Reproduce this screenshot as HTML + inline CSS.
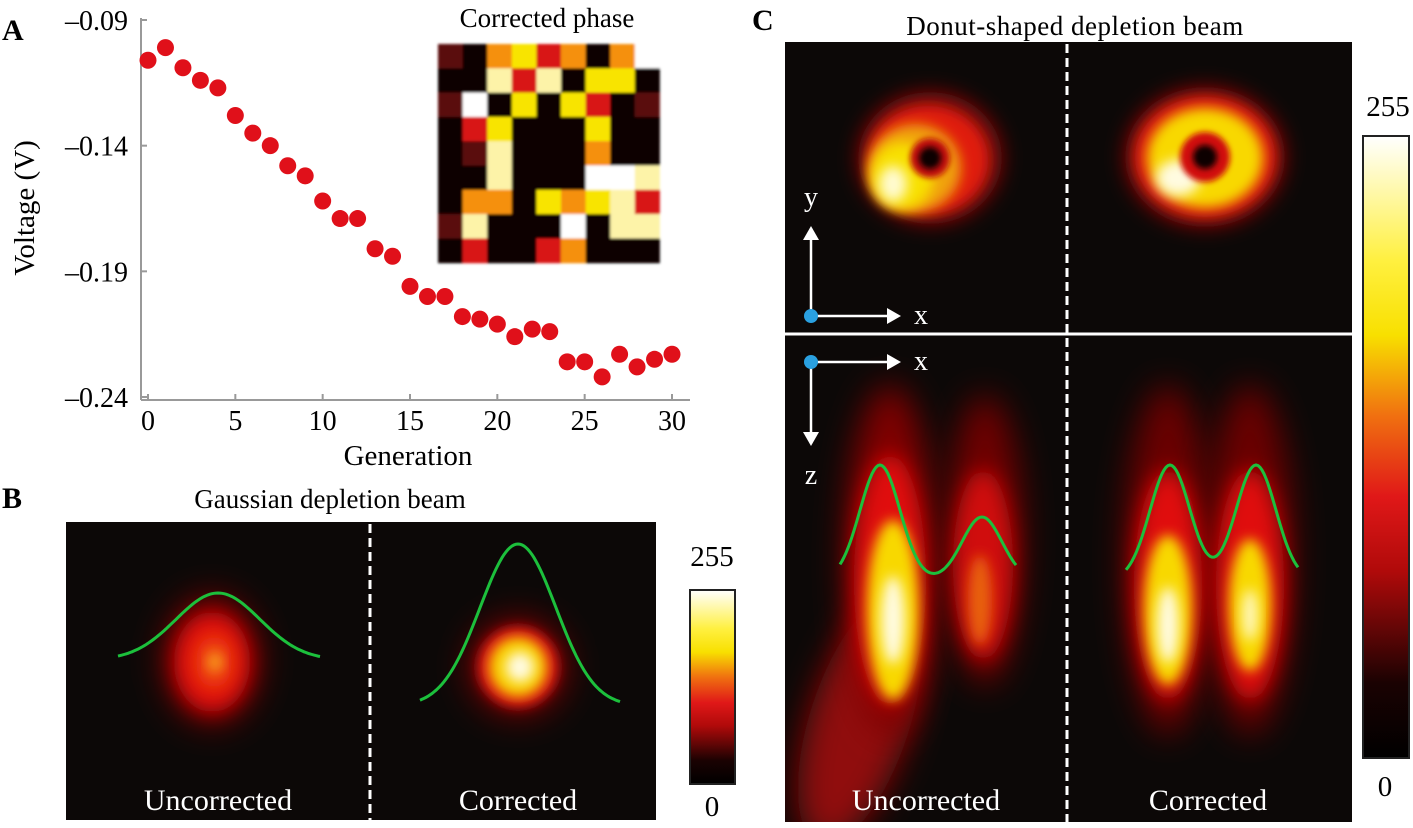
<!DOCTYPE html>
<html><head><meta charset="utf-8"><style>
html,body{margin:0;padding:0;background:#fff;}
svg{display:block;font-family:"Liberation Serif",serif;}
</style></head><body>
<svg id="fig" width="1413" height="828" viewBox="0 0 1413 828" xmlns="http://www.w3.org/2000/svg">
<defs>
<filter id="b3" x="-50%" y="-50%" width="200%" height="200%"><feGaussianBlur stdDeviation="3"/></filter>
<filter id="b6" x="-50%" y="-50%" width="200%" height="200%"><feGaussianBlur stdDeviation="6"/></filter>
<filter id="b10" x="-50%" y="-50%" width="200%" height="200%"><feGaussianBlur stdDeviation="10"/></filter>
<filter id="b16" x="-50%" y="-50%" width="200%" height="200%"><feGaussianBlur stdDeviation="16"/></filter>
<filter id="bi" x="-5%" y="-5%" width="110%" height="110%"><feGaussianBlur stdDeviation="1.2"/></filter>
<linearGradient id="cmap" x1="0" y1="1" x2="0" y2="0">
<stop offset="0" stop-color="#000"/><stop offset="0.12" stop-color="#1a0202"/><stop offset="0.3" stop-color="#b00a0a"/><stop offset="0.42" stop-color="#e01818"/><stop offset="0.55" stop-color="#f07010"/><stop offset="0.68" stop-color="#f8e000"/><stop offset="0.8" stop-color="#fff040"/><stop offset="1" stop-color="#fff"/>
</linearGradient>
<clipPath id="cB1"><rect x="66" y="522" width="302" height="298"/></clipPath>
<clipPath id="cB2"><rect x="372" y="522" width="284" height="298"/></clipPath>
<clipPath id="cC1"><rect x="785" y="42" width="280" height="288"/></clipPath>
<clipPath id="cC2"><rect x="1069" y="42" width="283" height="288"/></clipPath>
<clipPath id="cC3"><rect x="785" y="338" width="280" height="484"/></clipPath>
<clipPath id="cC4"><rect x="1069" y="338" width="283" height="484"/></clipPath>
</defs>

<g>
<text x="2" y="40" font-size="30" font-weight="bold">A</text>
<g id="scatter"></g>
<g id="inset"></g>
<text x="547" y="27" font-size="27" text-anchor="middle">Corrected phase</text>
</g>

<g>
<text x="2" y="508" font-size="30" font-weight="bold">B</text>
<text x="330" y="508" font-size="27" text-anchor="middle">Gaussian depletion beam</text>
<rect x="66" y="522" width="590" height="298" fill="#0c0807"/>
<g clip-path="url(#cB1)">
<ellipse cx="212" cy="660" rx="50" ry="66" fill="#6a0505" filter="url(#b16)"/>
<ellipse cx="212" cy="662" rx="38" ry="50" fill="#e01010" filter="url(#b10)"/>
<ellipse cx="214" cy="662" rx="18" ry="26" fill="#f05010" filter="url(#b10)"/>
<ellipse cx="215" cy="662" rx="7" ry="9" fill="#f8a020" filter="url(#b6)"/>
</g>
<g clip-path="url(#cB2)">
<ellipse cx="518" cy="667" rx="50" ry="50" fill="#700505" filter="url(#b16)"/>
<ellipse cx="518" cy="667" rx="40" ry="40" fill="#e01212" filter="url(#b6)"/>
<ellipse cx="518" cy="667" rx="29" ry="30" fill="#f8d000" filter="url(#b6)"/>
<ellipse cx="520" cy="667" rx="14" ry="15" fill="#fffbe0" filter="url(#b6)"/>
</g>
<line x1="370" y1="524" x2="370" y2="820" stroke="#fff" stroke-width="3" stroke-dasharray="9,5"/>
<path id="gB1" fill="none" stroke="#1cc03c" stroke-width="3"/>
<path id="gB2" fill="none" stroke="#1cc03c" stroke-width="3"/>
<text x="218" y="810" font-size="30" fill="#fff" text-anchor="middle">Uncorrected</text>
<text x="518" y="810" font-size="30" fill="#fff" text-anchor="middle">Corrected</text>
<rect x="690" y="590" width="45" height="194" fill="url(#cmap)" stroke="#222" stroke-width="2"/>
<text x="712" y="566" font-size="29" text-anchor="middle">255</text>
<text x="712" y="816" font-size="29" text-anchor="middle">0</text>
</g>

<g>
<text x="752" y="30" font-size="30" font-weight="bold">C</text>
<text x="1075" y="35" font-size="27" text-anchor="middle" letter-spacing="0.5">Donut-shaped depletion beam</text>
<rect x="785" y="42" width="567" height="780" fill="#0c0807"/>
<g clip-path="url(#cC1)">
<ellipse cx="930" cy="158" rx="72" ry="66" fill="#8a0808" filter="url(#b10)"/>
<ellipse cx="928" cy="160" rx="60" ry="54" fill="#e01a10" filter="url(#b6)"/>
<ellipse cx="915" cy="168" rx="46" ry="44" fill="#f0a010" filter="url(#b6)"/>
<ellipse cx="902" cy="176" rx="32" ry="34" fill="#f8e000" filter="url(#b6)"/>
<ellipse cx="893" cy="184" rx="14" ry="18" fill="#fffbd0" filter="url(#b6)"/>
<circle cx="930" cy="158" r="20" fill="#c01010" filter="url(#b3)"/>
<circle cx="930" cy="158" r="11" fill="#080505" filter="url(#b3)"/>
</g>
<g clip-path="url(#cC2)">
<ellipse cx="1205" cy="157" rx="80" ry="70" fill="#8a0808" filter="url(#b10)"/>
<ellipse cx="1205" cy="157" rx="70" ry="60" fill="#e01a10" filter="url(#b6)"/>
<ellipse cx="1205" cy="158" rx="58" ry="50" fill="#f8d800" filter="url(#b6)"/>
<ellipse cx="1178" cy="178" rx="22" ry="18" fill="#fffbe0" filter="url(#b6)"/>
<circle cx="1205" cy="157" r="25" fill="#d01010" filter="url(#b3)"/>
<circle cx="1205" cy="157" r="12" fill="#080505" filter="url(#b3)"/>
</g>
<g clip-path="url(#cC3)">
<g filter="url(#b16)"><ellipse cx="860" cy="720" rx="50" ry="130" fill="#900808" transform="rotate(18 860 720)"/></g>
<ellipse cx="890" cy="560" rx="45" ry="175" fill="#800606" filter="url(#b16)"/>
<ellipse cx="985" cy="540" rx="38" ry="145" fill="#700606" filter="url(#b16)"/>
<ellipse cx="890" cy="580" rx="36" ry="125" fill="#e01010" filter="url(#b10)"/>
<ellipse cx="983" cy="565" rx="30" ry="95" fill="#d01010" filter="url(#b10)"/>
<ellipse cx="893" cy="610" rx="26" ry="90" fill="#f8d800" filter="url(#b6)"/>
<ellipse cx="893" cy="620" rx="12" ry="44" fill="#fffbe0" filter="url(#b6)"/>
<ellipse cx="980" cy="600" rx="12" ry="45" fill="#e86010" filter="url(#b6)"/>
</g>
<g clip-path="url(#cC4)">
<ellipse cx="1168" cy="560" rx="44" ry="175" fill="#6a0505" filter="url(#b16)"/>
<ellipse cx="1250" cy="560" rx="44" ry="175" fill="#6a0505" filter="url(#b16)"/>
<ellipse cx="1168" cy="585" rx="34" ry="115" fill="#e01010" filter="url(#b10)"/>
<ellipse cx="1250" cy="585" rx="34" ry="115" fill="#e01010" filter="url(#b10)"/>
<ellipse cx="1168" cy="610" rx="24" ry="75" fill="#f8d800" filter="url(#b6)"/>
<ellipse cx="1250" cy="605" rx="21" ry="66" fill="#f8d800" filter="url(#b6)"/>
<ellipse cx="1168" cy="625" rx="11" ry="38" fill="#fffbe0" filter="url(#b6)"/>
<ellipse cx="1250" cy="615" rx="8" ry="26" fill="#fff8c0" filter="url(#b6)"/>
</g>
<line x1="785" y1="334" x2="1352" y2="334" stroke="#fff" stroke-width="3"/>
<line x1="1067" y1="44" x2="1067" y2="822" stroke="#fff" stroke-width="3" stroke-dasharray="9,5"/>
<path id="gC1" fill="none" stroke="#1cc03c" stroke-width="3"/>
<path id="gC2" fill="none" stroke="#1cc03c" stroke-width="3"/>
<g stroke="#fff" stroke-width="2.5" fill="#fff">
<line x1="811" y1="316" x2="811" y2="232"/><path d="M803 240 L811 226 L819 240 Z" stroke="none"/>
<line x1="811" y1="316" x2="895" y2="316"/><path d="M887 308 L901 316 L887 324 Z" stroke="none"/>
<circle cx="811" cy="316" r="7" fill="#2aa0e0" stroke="none"/>
</g>
<text x="811" y="206" font-size="28" fill="#fff" text-anchor="middle">y</text>
<text x="921" y="324" font-size="28" fill="#fff" text-anchor="middle">x</text>
<g stroke="#fff" stroke-width="2.5" fill="#fff">
<line x1="811" y1="362" x2="895" y2="362"/><path d="M887 354 L901 362 L887 370 Z" stroke="none"/>
<line x1="811" y1="362" x2="811" y2="440"/><path d="M803 432 L811 446 L819 432 Z" stroke="none"/>
<circle cx="811" cy="362" r="7" fill="#2aa0e0" stroke="none"/>
</g>
<text x="921" y="370" font-size="28" fill="#fff" text-anchor="middle">x</text>
<text x="811" y="484" font-size="28" fill="#fff" text-anchor="middle">z</text>
<text x="926" y="810" font-size="30" fill="#fff" text-anchor="middle">Uncorrected</text>
<text x="1208" y="810" font-size="30" fill="#fff" text-anchor="middle">Corrected</text>
<rect x="1363" y="136" width="46" height="622" fill="url(#cmap)" stroke="#222" stroke-width="2"/>
<text x="1388" y="116" font-size="29" text-anchor="middle">255</text>
<text x="1385" y="796" font-size="29" text-anchor="middle">0</text>
</g>
</svg>
<script>
const generations = [0,1,2,3,4,5,6,7,8,9,10,11,12,13,14,15,16,17,18,19,20,21,22,23,24,25,26,27,28,29,30];
const voltages = [-0.106,-0.101,-0.109,-0.114,-0.117,-0.128,-0.135,-0.140,-0.148,-0.152,-0.162,-0.169,-0.169,-0.181,-0.184,-0.196,-0.200,-0.200,-0.208,-0.209,-0.211,-0.216,-0.213,-0.214,-0.226,-0.226,-0.232,-0.223,-0.228,-0.225,-0.223];
const xTicks = [0,5,10,15,20,25,30];
const yTicks = [-0.09,-0.14,-0.19,-0.24];
const yTickLabels = ["\u20130.09","\u20130.14","\u20130.19","\u20130.24"];
const phaseRows = ["DKOYROKOW","KKLRLKYYK","DWKYKYRKD","KRYKKKYKK","KDLKKKOKK","KKLKKKWWL","KOOKYOYLR","DLKKKWKLL","KRKKROKKK"];
const phaseColors = {K:"#0a0606",D:"#5a0a0a",R:"#d81818",O:"#f59010",Y:"#f8e400",L:"#fdf3a8",W:"#ffffff"};

const NS="http://www.w3.org/2000/svg";
function mk(tag, attrs, parent){const e=document.createElementNS(NS,tag);for(const k in attrs)e.setAttribute(k,attrs[k]);parent.appendChild(e);return e;}
const X0=148,X1=672,Y0=20,Y1=397;
const xs=v=>X0+(v-0)/(30-0)*(X1-X0);
const ys=v=>Y0+(-0.09-v)/(0.15)*(Y1-Y0);
const sc=document.getElementById('scatter');
const yAxis=mk('line',{x1:141,y1:18,x2:141,y2:400,stroke:'#999','stroke-width':2},sc);


const xAxis=mk('line',{x1:141,y1:400,x2:690,y2:400,stroke:'#999','stroke-width':2},sc);


xTicks.forEach(t=>{
  const tk=mk('line',{x1:xs(t),y1:400,x2:xs(t),y2:394,stroke:'#999','stroke-width':2},sc);
  
  
  const lb=mk('text',{x:xs(t),y:430,'font-size':28,'text-anchor':'middle'},sc);
  lb.textContent=t;
  
  
});
yTicks.forEach((t,i)=>{
  const tk=mk('line',{x1:141,y1:ys(t),x2:147,y2:ys(t),stroke:'#999','stroke-width':2},sc);
  
  
  const lb=mk('text',{x:128,y:ys(t)+10,'font-size':28,'text-anchor':'end'},sc);
  lb.textContent=yTickLabels[i];
  
  
});
const xt=mk('text',{x:408,y:465,'font-size':29,'text-anchor':'middle'},sc);
xt.textContent='Generation';


const yt=mk('text',{x:0,y:0,'font-size':29,'text-anchor':'middle',transform:'translate(34,208) rotate(-90)'},sc);
yt.textContent='Voltage (V)';


generations.forEach((g,i)=>{
  const c=mk('circle',{cx:xs(g),cy:ys(voltages[i]),r:8.5,fill:'#e0101a'},sc);
  
  
});
const ins=document.getElementById('inset');
const gi=mk('g',{filter:'url(#bi)'},ins);
const IX=438,IY=44,CW=24.6,CH=24.3;
phaseRows.forEach((row,r)=>{[...row].forEach((ch,c)=>{
  const rc=mk('rect',{x:IX+c*CW,y:IY+r*CH,width:CW+0.5,height:CH+0.5,fill:phaseColors[ch]},gi);
  
  
});});
function gauss(x,m,s){return Math.exp(-0.5*((x-m)/s)**2);}
function curve(id,xa,xb,base,parts){
  let d='';for(let x=xa;x<=xb;x+=2){let y=base;parts.forEach(p=>{y-=p[2]*gauss(x,p[0],p[1]);});d+=(d?'L':'M')+x+' '+y.toFixed(1);}
  document.getElementById(id).setAttribute('d',d);
}
curve('gB1',118,320,660,[[218,42,67]]);
curve('gB2',420,620,706,[[518,38,162]]);
curve('gC1',840,1016,580,[[880,20,115],[982,20,63]]);
curve('gC2',1126,1298,580,[[1170,20,115],[1256,20,115]]);
</script>
</body></html>
